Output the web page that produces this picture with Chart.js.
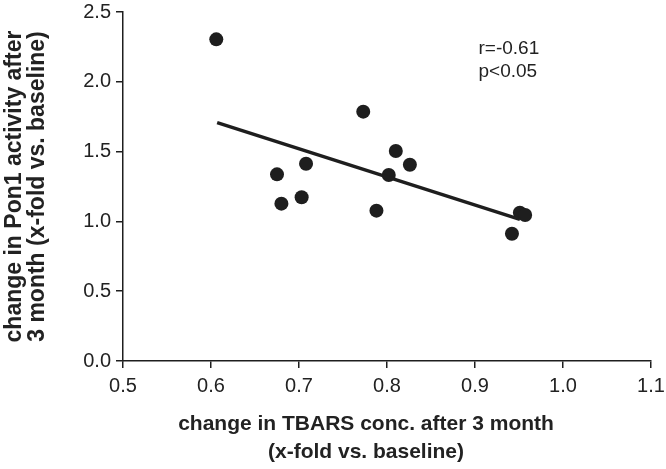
<!DOCTYPE html>
<html>
<head>
<meta charset="utf-8">
<script src="https://cdn.jsdelivr.net/npm/chart.js@4"></script>
<style>
html,body{margin:0;padding:0;background:#fff;}
#wrap{width:666px;height:469px;position:relative;}
</style>
</head>
<body>
<div id="wrap"><canvas id="c" width="666" height="469"></canvas></div>
<script>
const tbarsChange = [0.606, 0.773, 0.810, 0.826, 0.708, 0.675, 0.802, 0.703, 0.680, 0.788, 0.951, 0.957, 0.942];
const pon1Change  = [2.304, 1.786, 1.504, 1.406, 1.413, 1.337, 1.332, 1.173, 1.127, 1.077, 1.062, 1.046, 0.912];
const fitX = [0.607, 0.951];
const fitY = [1.707, 1.015];
const statLines = ['r=-0.61', 'p<0.05'];
const statPos = {x: 0.904, y: [2.24, 2.07]};
const xTitle = ['change in TBARS conc. after 3 month', '(x-fold vs. baseline)'];
const yTitle = ['change in Pon1 activity after', '3 month (x-fold vs. baseline)'];

const dark = '#1e1e1e';
const FONT = "'Liberation Sans', Arial, sans-serif";

const textPlugin = {
  id: 'texts',
  afterDatasetsDraw(chart) {
    const ctx = chart.ctx;
    const xs = chart.scales.x, ys = chart.scales.y;
    ctx.save();
    ctx.fillStyle = '#222';
    ctx.font = '19px ' + FONT;
    ctx.textAlign = 'left';
    ctx.textBaseline = 'middle';
    statLines.forEach((t, i) => {
      ctx.fillText(t, xs.getPixelForValue(statPos.x), ys.getPixelForValue(statPos.y[i]));
    });
    // x axis title, centred slightly left of the plot centre as in the figure
    ctx.font = 'bold 21px ' + FONT;
    ctx.textAlign = 'center';
    const cx = (xs.left + xs.right) / 2 - 21;
    xTitle.forEach((t, i) => {
      ctx.fillText(t, cx, xs.bottom - 45 + i * 28);
    });
    ctx.restore();
  }
};

new Chart(document.getElementById('c'), {
  type: 'scatter',
  data: {
    datasets: [
      {
        type: 'line',
        data: fitX.map((x, i) => ({x, y: fitY[i]})),
        borderColor: dark,
        borderWidth: 3.5,
        pointRadius: 0,
        fill: false
      },
      {
        data: tbarsChange.map((x, i) => ({x, y: pon1Change[i]})),
        backgroundColor: dark,
        borderColor: dark,
        borderWidth: 0,
        pointRadius: 7
      }
    ]
  },
  options: {
    responsive: false,
    animation: false,
    devicePixelRatio: 1,
    layout: {padding: {left: 0, right: 15, top: 12, bottom: 0}},
    plugins: {legend: {display: false}, tooltip: {enabled: false}},
    scales: {
      x: {
        type: 'linear',
        min: 0.5, max: 1.1,
        ticks: {stepSize: 0.1, color: '#222', font: {size: 20, family: FONT}, padding: 6,
          callback: v => v.toFixed(1)},
        grid: {drawOnChartArea: false, tickLength: 7, color: dark, tickColor: dark, lineWidth: 1.5},
        border: {color: dark, width: 1.5},
        title: {display: false},
        afterFit: s => { s.height = 469 - 361; s.paddingLeft = 0; s.paddingRight = 0; }
      },
      y: {
        type: 'linear',
        min: 0, max: 2.5,
        ticks: {stepSize: 0.5, color: '#222', font: {size: 20, family: FONT}, padding: 5,
          callback: v => v.toFixed(1)},
        grid: {drawOnChartArea: false, tickLength: 7, color: dark, tickColor: dark, lineWidth: 1.5},
        border: {color: dark, width: 1.5},
        title: {display: true, text: yTitle, color: '#222', font: {size: 23, weight: 'bold', family: FONT, lineHeight: 1.0}, padding: {top: 3, bottom: 6}},
        afterFit: s => { s.width = 123; s.paddingTop = 0; s.paddingBottom = 0; }
      }
    }
  },
  plugins: [textPlugin]
});
</script>
</body>
</html>
